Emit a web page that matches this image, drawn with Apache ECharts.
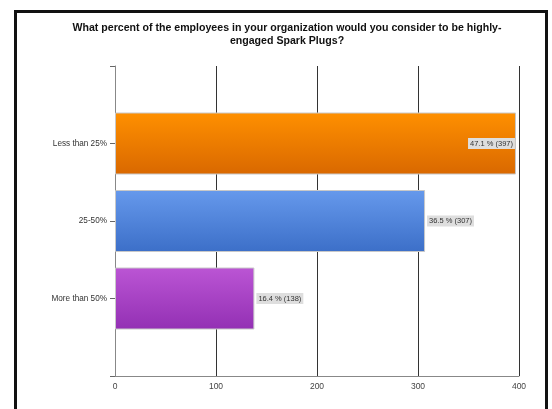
<!DOCTYPE html>
<html>
<head>
<meta charset="utf-8">
<script src="https://cdn.jsdelivr.net/npm/echarts@6/dist/echarts.min.js"></script>
<style>
html,body{margin:0;padding:0;background:#fff;}
#chart{width:552px;height:409px;}
</style>
</head>
<body>
<div id="chart"></div>
<script>
var titleText = 'What percent of the employees in your organization would you consider to be highly-\nengaged Spark Plugs?';
var categories = ['Less than 25%', '25-50%', 'More than 50%'];
var counts = [397, 307, 138];
var percents = ['47.1', '36.5', '16.4'];
var xTicks = [0, 100, 200, 300, 400];

var gradients = [
  ['#ff9000', '#d96800'],
  ['#6699ec', '#3c6fc8'],
  ['#bb55d4', '#9330b4']
];

var chart = echarts.init(document.getElementById('chart'), null, {renderer: 'canvas'});

var paddedCats = [''].concat(categories).concat(['']);
var barData = [null];
for (var i = 0; i < counts.length; i++) {
  var inside = i === 0;
  barData.push({
    value: counts[i],
    itemStyle: {
      color: new echarts.graphic.LinearGradient(0, 0, 0, 1, [
        {offset: 0, color: gradients[i][0]},
        {offset: 1, color: gradients[i][1]}
      ]),
      borderColor: '#c8c8c8',
      borderWidth: 1
    },
    label: {
      show: true,
      position: inside ? 'insideRight' : 'right',
      distance: inside ? 1 : 2,
      formatter: percents[i] + ' % (' + counts[i] + ')'
    }
  });
}
barData.push(null);

chart.setOption({
  animation: false,
  backgroundColor: '#fff',
  textStyle: {fontFamily: 'Liberation Sans, Arial, sans-serif'},
  title: {
    text: titleText,
    left: 282,
    top: 17,
    textAlign: 'center',
    textStyle: {fontSize: 10.6, fontWeight: 'bold', color: '#111', lineHeight: 13, fontFamily: 'Liberation Sans, Arial, sans-serif'}
  },
  graphic: [{
    type: 'rect',
    shape: {x: 15.5, y: 11.5, width: 531, height: 430},
    style: {fill: 'none', stroke: '#111', lineWidth: 3},
    z: 100
  }],
  grid: {left: 115, right: 33, top: 66, bottom: 33, containLabel: false},
  xAxis: {
    type: 'value',
    min: 0,
    max: 400,
    interval: 100,
    axisLine: {show: true, lineStyle: {color: '#888', width: 1}},
    axisTick: {show: false},
    splitLine: {show: true, lineStyle: {color: '#333', width: 1}},
    axisLabel: {color: '#444', fontSize: 8.5, margin: 6, formatter: function (v) { return xTicks.indexOf(v) >= 0 ? String(v) : ''; }}
  },
  yAxis: {
    type: 'category',
    data: paddedCats,
    inverse: true,
    boundaryGap: false,
    axisLine: {show: true, lineStyle: {color: '#888', width: 1}},
    axisTick: {show: true, length: 5, lineStyle: {color: '#666'}},
    axisLabel: {color: '#333', fontSize: 8.2, margin: 8},
    splitLine: {show: false}
  },
  series: [{
    type: 'bar',
    data: barData,
    barWidth: 62,
    label: {
      color: '#333',
      fontSize: 7.5,
      backgroundColor: '#dedede',
      padding: [2, 2, 1, 2]
    }
  }]
});
</script>
</body>
</html>
